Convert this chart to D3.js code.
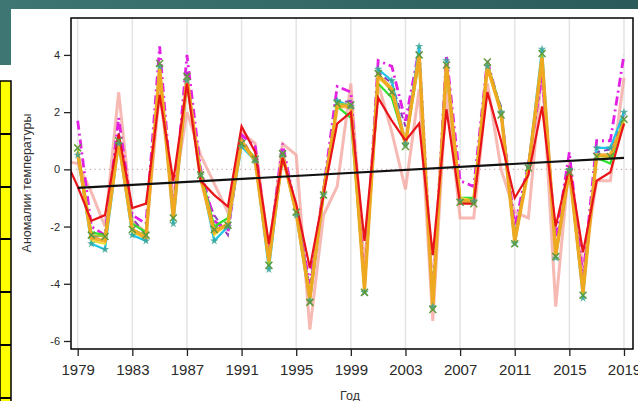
<!DOCTYPE html>
<html>
<head>
<meta charset="utf-8">
<script src="https://cdn.jsdelivr.net/npm/d3@7/dist/d3.min.js"></script>
<style>
  body { margin: 0; background: #fff; }
  svg { display: block; font-family: "Liberation Sans", Arial, sans-serif; }
</style>
</head>
<body>
<svg id="chart" width="638" height="401"></svg>
<script>
// Years (1978 only carries values for the two series that begin before the axis)
const years = [1978, 1979, 1980, 1981, 1982, 1983, 1984, 1985, 1986, 1987, 1988, 1989, 1990,
  1991, 1992, 1993, 1994, 1995, 1996, 1997, 1998, 1999, 2000, 2001, 2002, 2003, 2004,
  2005, 2006, 2007, 2008, 2009, 2010, 2011, 2012, 2013, 2014, 2015, 2016, 2017, 2018, 2019];

const salmonVals = [0.3, 0.2, -0.8, -2.0, 2.7, -1.8, -2.2, 2.7, -1.0, 2.0, 0.5, -0.5, -1.5,
  1.3, 0.9, -2.9, 0.9, 0.5, -5.6, -1.6, -0.6, 3.0, -3.5, 3.0, 1.3, -0.7, 2.8,
  -5.3, 2.8, -1.7, -1.7, 3.0, 0.0, -1.5, -1.7, 3.5, -4.8, 0.3, -3.5, -0.4, -0.4, 3.2];
const purpleVals = [null, 0.4, -2.3, -2.4, 1.3, -1.7, -2.3, 3.3, -1.6, 3.4, -0.4, -1.6, -2.3,
  1.1, 0.3, -3.1, 0.6, -1.3, -4.2, -0.6, 2.3, 2.4, -4.0, 3.4, 3.0, 1.5, 3.9,
  -4.6, 3.9, -1.0, -1.0, 3.5, 2.2, -2.3, 0.0, 3.4, -2.8, 0.1, -4.0, 0.6, 0.7, 1.9];
const cyanVals = [null, 0.5, -2.6, -2.8, 0.9, -2.3, -2.5, 3.6, -1.9, 3.1, -0.2, -2.5, -2.0,
  0.8, 0.3, -3.5, 0.5, -1.6, -4.6, -0.9, 2.4, 2.2, -4.3, 3.5, 3.1, 0.9, 4.3,
  -4.8, 3.8, -1.1, -1.1, 3.6, 2.0, -2.6, 0.1, 4.2, -3.1, 0.0, -4.5, 0.75, 0.75, 2.0];
const greenVals = [null, 0.6, -2.2, -2.3, 0.9, -1.9, -2.2, 3.4, -1.5, 3.0, -0.1, -2.0, -1.7,
  0.9, 0.4, -3.2, 0.4, -1.4, -4.4, -0.7, 2.2, 1.8, -4.1, 3.0, 2.5, 0.9, 3.8,
  -4.6, 3.5, -1.0, -1.0, 3.7, 2.1, -2.4, 0.1, 3.8, -2.9, 0.0, -4.2, 0.4, 0.2, 1.8];
const yellowVals = [null, 0.5, -2.5, -2.6, 0.9, -2.2, -2.4, 3.5, -1.6, 3.1, -0.3, -2.3, -1.9,
  0.9, 0.3, -3.3, 0.5, -1.6, -4.5, -0.8, 2.3, 2.2, -4.2, 3.2, 2.8, 0.9, 3.9,
  -4.8, 3.6, -1.0, -1.1, 3.5, 2.0, -2.5, 0.0, 3.8, -3.0, 0.0, -4.3, 0.5, 0.4, 1.7];
const oliveVals = [null, 0.75, -2.3, -2.35, 1.0, -2.1, -2.3, 3.7, -1.7, 3.25, -0.2, -2.1, -1.95,
  0.9, 0.35, -3.35, 0.55, -1.5, -4.65, -0.9, 2.3, 2.25, -4.3, 3.35, 2.7, 0.8, 4.0,
  -4.9, 3.65, -1.15, -1.2, 3.75, 1.9, -2.6, 0.05, 4.05, -3.05, -0.1, -4.4, 0.45, 0.45, 1.75];
const orangeVals = [null, 0.6, -2.4, -2.5, 1.0, -2.1, -2.4, 3.5, -1.7, 3.2, -0.3, -2.2, -1.9,
  1.0, 0.3, -3.2, 0.5, -1.5, -4.5, -0.8, 2.2, 2.2, -4.2, 3.3, 2.8, 0.9, 4.0,
  -4.8, 3.7, -1.1, -1.1, 3.6, 2.0, -2.5, 0.0, 3.9, -3.0, 0.0, -4.3, 0.5, 0.5, 1.6];
const redVals = [0.45, -0.6, -1.8, -1.6, 1.25, -1.35, -1.2, 2.6, -0.4, 3.0, -0.4, -0.9, -1.3,
  1.5, 0.6, -2.6, 0.4, -1.2, -3.45, -0.9, 1.6, 2.0, -2.5, 2.5, 1.7, 1.0, 1.6,
  -3.0, 2.1, -1.2, -1.2, 2.7, 1.0, -1.0, -0.2, 2.2, -2.0, 0.1, -2.9, -0.4, -0.1, 1.6];
const magentaVals = [null, 1.7, -2.0, -2.3, 1.8, -1.6, -1.9, 4.3, -1.5, 4.0, 0.0, -1.8, -2.2,
  1.2, 0.8, -3.0, 0.9, -1.5, -4.0, -0.7, 2.9, 2.7, -4.0, 3.8, 3.6, 1.7, 4.2,
  -4.5, 4.0, -0.4, -0.6, 3.8, 2.0, -2.0, 0.2, 3.3, -2.5, 0.6, -3.8, 1.0, 1.0, 4.0];

// Linear trend
const trendYears = [1979, 2019];
const trendVals = [-0.65, 0.40];

const xTickYears = [1979, 1983, 1987, 1991, 1995, 1999, 2003, 2007, 2011, 2015, 2019];
const yTickVals = [-6, -4, -2, 0, 2, 4];

const yTitle = "Аномалии температуры";
const xTitle = "Год";

// Drawing order and line styles
const series = [
  { vals: salmonVals,  color: "#f4a29a", width: 3,   opacity: 0.75 },
  { vals: purpleVals,  color: "#8a3fb8", width: 2,   dash: "6,4" },
  { vals: magentaVals, color: "#e21fe2", width: 2.8, dash: "9,4,2,4" },
  { vals: cyanVals,    color: "#22c4e4", width: 2.2 },
  { vals: greenVals,   color: "#2fe02f", width: 2.2 },
  { vals: yellowVals,  color: "#ecdf3a", width: 2.2 },
  { vals: oliveVals,   color: "#a8c832", width: 2 },
  { vals: orangeVals,  color: "#f5a51e", width: 3.5, opacity: 0.9 },
  { vals: redVals,     color: "#e8141a", width: 2.2 }
];

const svg = d3.select("#chart");

// Slide decoration
const grad = svg.append("defs").append("linearGradient").attr("id", "hdr")
  .attr("x1", "0").attr("x2", "1").attr("y1", "0").attr("y2", "0");
grad.append("stop").attr("offset", "0").attr("stop-color", "#3d7673");
grad.append("stop").attr("offset", "1").attr("stop-color", "#2a5b5a");
svg.append("rect").attr("x", 0).attr("y", 0).attr("width", 638).attr("height", 9).attr("fill", "url(#hdr)");
svg.append("rect").attr("x", 0).attr("y", 0).attr("width", 11).attr("height", 65).attr("fill", "#3d7673");
svg.append("rect").attr("x", 0).attr("y", 81).attr("width", 11).attr("height", 330)
  .attr("fill", "#ffff00").attr("stroke", "#000").attr("stroke-width", 1.5);
[134, 187, 239, 292, 345, 398].forEach(yy =>
  svg.append("line").attr("x1", 0).attr("x2", 11).attr("y1", yy).attr("y2", yy)
    .attr("stroke", "#000").attr("stroke-width", 2));

// Plot area
const L = 71, R = 633, T = 18, B = 349;
const x = d3.scaleLinear().domain([1978.51, 2019.66]).range([L, R]);
const y = d3.scaleLinear().domain([-6.28, 5.29]).range([B, T]);

svg.append("clipPath").attr("id", "plotclip").append("rect")
  .attr("x", L).attr("y", T).attr("width", R - L).attr("height", B - T);

// Vertical grid
svg.append("g").selectAll("line").data(xTickYears).join("line")
  .attr("x1", d => x(d)).attr("x2", d => x(d)).attr("y1", T).attr("y2", B)
  .attr("stroke", "#e4e4e4").attr("stroke-width", 1.5);

// Zero reference
svg.append("line").attr("x1", L).attr("x2", R).attr("y1", y(0)).attr("y2", y(0))
  .attr("stroke", "#c9a9a9").attr("stroke-width", 1.2).attr("stroke-dasharray", "1.2,3.5");

const plot = svg.append("g").attr("clip-path", "url(#plotclip)");

const line = d3.line()
  .defined(d => d[1] != null)
  .x(d => x(d[0])).y(d => y(d[1]));

series.forEach(s => {
  const pts = years.map((yr, i) => [yr, s.vals[i]]);
  plot.append("path").datum(pts)
    .attr("d", line)
    .attr("fill", "none")
    .attr("stroke", s.color)
    .attr("stroke-width", s.width)
    .attr("stroke-opacity", s.opacity || 1)
    .attr("stroke-linejoin", "miter")
    .attr("stroke-dasharray", s.dash || null);
});

// Markers
const cyanPts = years.map((yr, i) => [yr, cyanVals[i]]).filter(d => d[1] != null);
plot.append("g").selectAll("path").data(cyanPts).join("path")
  .attr("transform", d => `translate(${x(d[0])},${y(d[1])})`)
  .attr("d", d3.symbol(d3.symbolStar, 22))
  .attr("fill", "#3aa597").attr("opacity", 0.85);

const olivePts = years.map((yr, i) => [yr, oliveVals[i]]).filter(d => d[1] != null);
plot.append("g").selectAll("path").data(olivePts).join("path")
  .attr("transform", d => `translate(${x(d[0])},${y(d[1])})`)
  .attr("d", "M-3.5,-3.5L3.5,3.5M-3.5,3.5L3.5,-3.5")
  .attr("stroke", "#5f9a3c").attr("stroke-width", 1.5).attr("fill", "none");

// Trend line
const trendPts = trendYears.map((yr, i) => [yr, trendVals[i]]);
plot.append("path").datum(trendPts).attr("d", line)
  .attr("fill", "none").attr("stroke", "#111").attr("stroke-width", 2.2);

// Frame
svg.append("rect").attr("x", L).attr("y", T).attr("width", R - L).attr("height", B - T)
  .attr("fill", "none").attr("stroke", "#000").attr("stroke-width", 1.5);

// Axes
const xAxis = svg.append("g").attr("transform", `translate(0,${B})`)
  .call(d3.axisBottom(x).tickValues(xTickYears).tickFormat(d3.format("d")).tickSize(7).tickPadding(8));
xAxis.select(".domain").remove();
xAxis.selectAll("line").attr("stroke", "#222").attr("stroke-width", 1.3);
xAxis.selectAll("text").attr("font-size", 15).attr("fill", "#2a2a2a")
  .attr("font-family", "Liberation Sans, Arial, sans-serif");

const yAxis = svg.append("g").attr("transform", `translate(${L},0)`)
  .call(d3.axisLeft(y).tickValues(yTickVals).tickFormat(d => String(d)).tickSize(7).tickPadding(4));
yAxis.select(".domain").remove();
yAxis.selectAll("line").attr("stroke", "#222").attr("stroke-width", 1.3);
yAxis.selectAll("text").attr("font-size", 11).attr("fill", "#2a2a2a")
  .attr("font-family", "Liberation Sans, Arial, sans-serif");

// Titles
svg.append("text").attr("transform", `translate(31,183) rotate(-90)`)
  .attr("text-anchor", "middle").attr("font-size", 12.5).attr("fill", "#333").text(yTitle);
svg.append("text").attr("x", 350).attr("y", 400)
  .attr("text-anchor", "middle").attr("font-size", 12.5).attr("fill", "#333").text(xTitle);
</script>
</body>
</html>
